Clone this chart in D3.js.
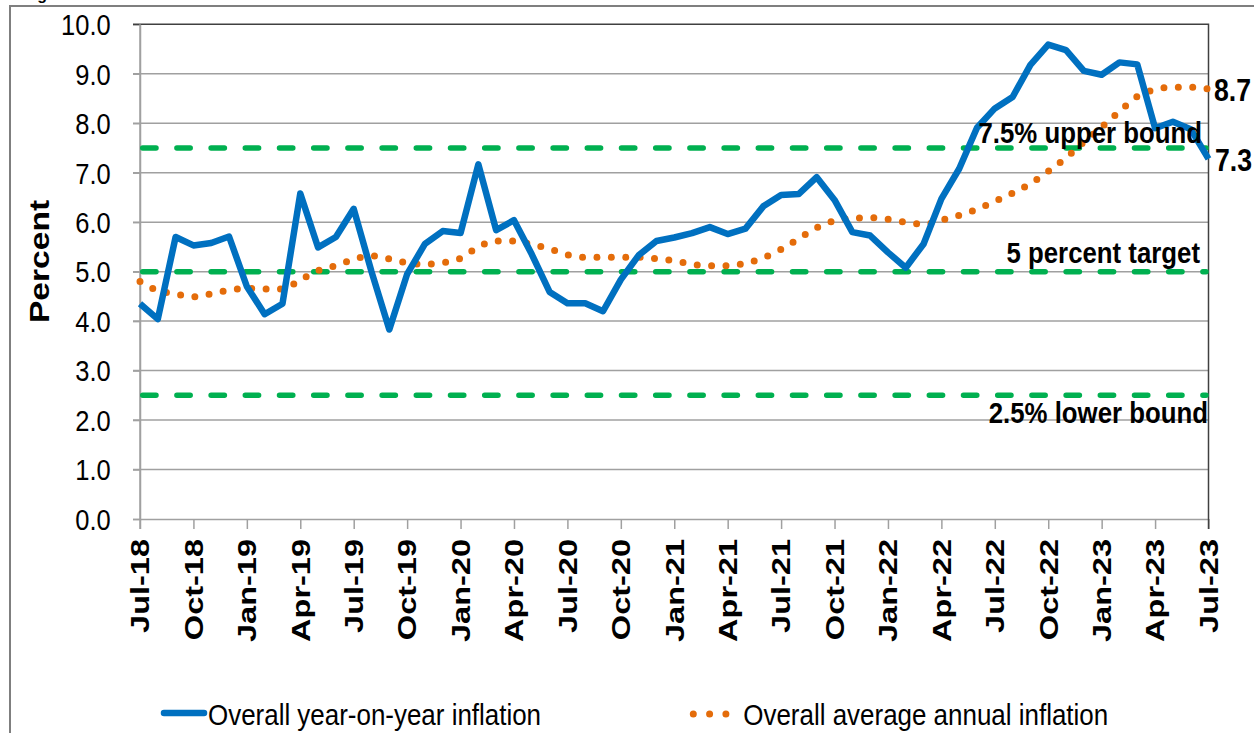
<!DOCTYPE html>
<html>
<head>
<meta charset="utf-8">
<script src="https://cdn.jsdelivr.net/npm/d3@7"></script>
<style>
  html, body { margin: 0; padding: 0; background: #ffffff; }
  svg { display: block; }
  text { font-family: "Liberation Sans", Arial, sans-serif; fill: #000; }
</style>
</head>
<body>
<svg id="chart" width="1254" height="733"></svg>
<script>
// ---------------- DATA ----------------
const months = [
  "Jul-18","Aug-18","Sep-18","Oct-18","Nov-18","Dec-18",
  "Jan-19","Feb-19","Mar-19","Apr-19","May-19","Jun-19","Jul-19","Aug-19","Sep-19","Oct-19","Nov-19","Dec-19",
  "Jan-20","Feb-20","Mar-20","Apr-20","May-20","Jun-20","Jul-20","Aug-20","Sep-20","Oct-20","Nov-20","Dec-20",
  "Jan-21","Feb-21","Mar-21","Apr-21","May-21","Jun-21","Jul-21","Aug-21","Sep-21","Oct-21","Nov-21","Dec-21",
  "Jan-22","Feb-22","Mar-22","Apr-22","May-22","Jun-22","Jul-22","Aug-22","Sep-22","Oct-22","Nov-22","Dec-22",
  "Jan-23","Feb-23","Mar-23","Apr-23","May-23","Jun-23","Jul-23"
];
const yoyInflation = [
  4.35, 4.04, 5.70, 5.53, 5.58, 5.71,
  4.70, 4.14, 4.35, 6.58, 5.49, 5.70, 6.27, 5.00, 3.83, 4.95, 5.56, 5.82,
  5.78, 7.17, 5.84, 6.04, 5.35, 4.59, 4.36, 4.36, 4.20, 4.84, 5.33, 5.62,
  5.69, 5.78, 5.90, 5.76, 5.87, 6.32, 6.55, 6.57, 6.91, 6.45, 5.80, 5.73,
  5.39, 5.08, 5.56, 6.47, 7.08, 7.91, 8.30, 8.53, 9.18, 9.59, 9.48, 9.06,
  8.98, 9.23, 9.19, 7.90, 8.03, 7.88, 7.28
];
const avgAnnualInflation = [
  4.80, 4.62, 4.55, 4.49, 4.55, 4.63,
  4.66, 4.65, 4.65, 4.83, 5.02, 5.12, 5.25, 5.32, 5.26, 5.18, 5.15, 5.18,
  5.27, 5.50, 5.62, 5.62, 5.55, 5.46, 5.34, 5.29, 5.29, 5.29, 5.29, 5.26,
  5.22, 5.15, 5.12, 5.12, 5.17, 5.28, 5.45, 5.67, 5.89, 6.03, 6.08, 6.09,
  6.06, 6.00, 5.96, 6.04, 6.14, 6.26, 6.42, 6.59, 6.78, 7.03, 7.30, 7.62,
  7.92, 8.24, 8.54, 8.68, 8.73, 8.73, 8.69
];
const tickLabels = ["Jul-18","Oct-18","Jan-19","Apr-19","Jul-19","Oct-19","Jan-20","Apr-20",
  "Jul-20","Oct-20","Jan-21","Apr-21","Jul-21","Oct-21","Jan-22","Apr-22","Jul-22","Oct-22",
  "Jan-23","Apr-23","Jul-23"];
const yTicks = [0,1,2,3,4,5,6,7,8,9,10];
const refLines = [
  { value: 7.5, label: "7.5% upper bound" },
  { value: 5.0, label: "5 percent target" },
  { value: 2.5, label: "2.5% lower bound" }
];
const seriesNames = ["Overall year-on-year inflation", "Overall average annual inflation"];
const yAxisTitle = "Percent";
const titleText = "Figure 1: Inflation";

// ---------------- LAYOUT ----------------
const svg = d3.select("#chart");
const L = 140, R = 1208.5, T = 24.3, B = 519;
const x = d3.scaleLinear().domain([0, months.length - 1]).range([L, R]);
const y = d3.scaleLinear().domain([0, 10]).range([B, T]);

const BLUE = "#0070c0", ORANGE = "#e46c0a", GREEN = "#00b050";
const GRID = "#a0a0a0", DARK = "#404040";

svg.append("rect").attr("width", 1254).attr("height", 733).attr("fill", "#fff");

function txt(g, px, py, str, o) {
  const t = g.append("text")
    .attr("transform", `translate(${px},${py}) rotate(${o.rotate || 0}) scale(${o.sx || 1},${o.sy || 1})`)
    .attr("font-size", o.size)
    .attr("font-weight", o.weight || "normal")
    .attr("text-anchor", o.anchor || "start")
    .text(str);
  return t;
}

// title, cropped at the very top as in the source
txt(svg, 23, 0, titleText, { size: 16, weight: "bold" });

// outer frame (left + top)
svg.append("path").attr("d", "M10,733 L10,6 L1254,6")
  .attr("fill", "none").attr("stroke", "#7f7f7f").attr("stroke-width", 2);

// gridlines
const gGrid = svg.append("g");
gGrid.selectAll("line.grid").data(yTicks.filter(v => v > 0 && v < 10)).enter().append("line")
  .attr("x1", L - 7).attr("x2", R).attr("y1", d => y(d)).attr("y2", d => y(d))
  .attr("stroke", GRID).attr("stroke-width", 1.5);

// y axis
const yAxis = d3.axisLeft(y).tickValues(yTicks).tickSize(7).tickFormat("");
const gy = svg.append("g").attr("transform", `translate(${L},0)`).call(yAxis);
gy.select(".domain").attr("stroke", GRID).attr("stroke-width", 1.5);
gy.selectAll(".tick line").attr("stroke", GRID).attr("stroke-width", 1.5);

// x axis
const tickIdx = tickLabels.map(l => months.indexOf(l));
const xAxis = d3.axisBottom(x).tickValues(tickIdx).tickSize(10).tickFormat("").tickSizeOuter(0);
const gx = svg.append("g").attr("transform", `translate(0,${B})`).call(xAxis);
gx.select(".domain").attr("stroke", GRID).attr("stroke-width", 1.5);
gx.selectAll(".tick line").attr("stroke", GRID).attr("stroke-width", 1.5);

// plot top + right border
svg.append("path").attr("d", `M${L - 7},${T} L${R},${T} L${R},${B + 10}`)
  .attr("fill", "none").attr("stroke", DARK).attr("stroke-width", 1.5);
svg.append("line").attr("x1", L).attr("x2", L).attr("y1", T).attr("y2", B + 10)
  .attr("stroke", GRID).attr("stroke-width", 1.5);

// y tick labels
yTicks.forEach(v => {
  txt(svg, 110.7, y(v) + 10.8, v.toFixed(1), { size: 30, sx: 0.85, anchor: "end" });
});

// y axis title
txt(svg, 49, 261.5, yAxisTitle, { size: 28, weight: "bold", rotate: -90, sx: 1.2, anchor: "middle" });

// x tick labels
tickLabels.forEach((l, i) => {
  txt(svg, x(tickIdx[i]) + 9.3, 539, l, { size: 26, weight: "bold", rotate: -90, sx: 1.25, anchor: "end" });
});

// reference lines
svg.selectAll("line.ref").data(refLines).enter().append("line")
  .attr("x1", L + 2.7).attr("x2", R - 2.5).attr("y1", d => y(d.value)).attr("y2", d => y(d.value))
  .attr("stroke", GREEN).attr("stroke-width", 5.5)
  .attr("stroke-linecap", "round").attr("stroke-dasharray", "13.3 20.9");

// series
const idx = d3.range(months.length);
const lineYoy = d3.line().x(i => x(i)).y(i => y(yoyInflation[i]));
const lineAvg = d3.line().x(i => x(i)).y(i => y(avgAnnualInflation[i])).curve(d3.curveMonotoneX);

svg.append("path").datum(idx).attr("d", lineAvg)
  .attr("fill", "none").attr("stroke", ORANGE).attr("stroke-width", 7)
  .attr("stroke-linecap", "round").attr("stroke-dasharray", "0 14.4");

svg.append("path").datum(idx).attr("d", lineYoy)
  .attr("fill", "none").attr("stroke", BLUE).attr("stroke-width", 6.5)
  .attr("stroke-linejoin", "round");

// reference labels
const refPos = [
  { x: 1202, y: 142.5 },
  { x: 1200, y: 263 },
  { x: 1208, y: 422.5 }
];
refLines.forEach((r, i) => {
  txt(svg, refPos[i].x, refPos[i].y, r.label, { size: 30, weight: "bold", sx: 0.86, anchor: "end" });
});

// end value labels
const last = months.length - 1;
txt(svg, 1214, y(avgAnnualInflation[last]) + 12, avgAnnualInflation[last].toFixed(1), { size: 31, weight: "bold", sx: 0.86 });
txt(svg, 1215, y(yoyInflation[last]) + 12, yoyInflation[last].toFixed(1), { size: 31, weight: "bold", sx: 0.86 });

// legend
svg.append("line").attr("x1", 164).attr("x2", 204).attr("y1", 713).attr("y2", 713)
  .attr("stroke", BLUE).attr("stroke-width", 6.5).attr("stroke-linecap", "round");
txt(svg, 208, 725, seriesNames[0], { size: 29.5, sx: 0.88 });
svg.append("line").attr("x1", 693.3).attr("x2", 726).attr("y1", 714).attr("y2", 714)
  .attr("stroke", ORANGE).attr("stroke-width", 7)
  .attr("stroke-linecap", "round").attr("stroke-dasharray", "0 16.3");
txt(svg, 743.3, 725, seriesNames[1], { size: 29.5, sx: 0.88 });
</script>
</body>
</html>
